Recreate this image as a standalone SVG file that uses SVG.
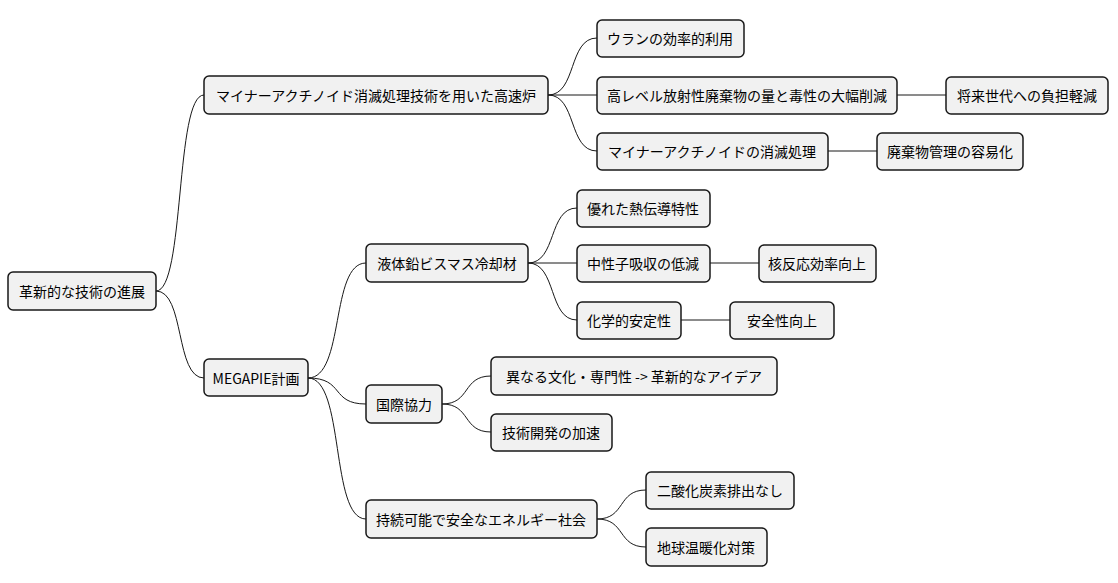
<svg xmlns="http://www.w3.org/2000/svg" width="1118" height="583" viewBox="0 0 1118 583">
<style>
rect{fill:#f1f1f1;stroke:#181818;stroke-width:1.5}
text{font-family:"Noto Sans CJK JP","DejaVu Sans",sans-serif;font-size:14px;fill:#000;dominant-baseline:central}
path{fill:none;stroke:#181818;stroke-width:1}
</style>
<rect width="1118" height="583" style="fill:#fff;stroke:none"/>
<g id="connectors">
<path d="M156,291 C185,291 175,95 204,95"/>
<path d="M156,291 C185,291 175,378 204,378"/>
<path d="M548,95 C577,95 568,38 597,38"/>
<path d="M548,95 L597,95"/>
<path d="M548,95 C577,95 568,151 597,151"/>
<path d="M897,95 L946,95"/>
<path d="M828,151 L877,151"/>
<path d="M308,378 C345,378 330,263 366,263"/>
<path d="M308,378 C345,378 330,404 366,404"/>
<path d="M308,378 C345,378 330,519 366,519"/>
<path d="M528,263 C557,263 548,208 577,208"/>
<path d="M528,263 L577,263"/>
<path d="M528,263 C557,263 548,320 577,320"/>
<path d="M710,263 L759,263"/>
<path d="M681,320 L730,320"/>
<path d="M442,404 C471,404 462,376 491,376"/>
<path d="M442,404 C471,404 462,432 491,432"/>
<path d="M597,519 C626,519 617,490 646,490"/>
<path d="M597,519 C626,519 617,547 646,547"/>
</g>
<g id="n1"><rect x="8" y="272" width="148" height="38" rx="5"/><text x="82" y="291" text-anchor="middle">革新的な技術の進展</text></g>
<g id="n2"><rect x="204" y="76" width="344" height="38" rx="5"/><text x="376" y="95" text-anchor="middle">マイナーアクチノイド消滅処理技術を用いた高速炉</text></g>
<g id="n3"><rect x="597" y="20" width="147" height="37" rx="5"/><text x="670" y="38" text-anchor="middle">ウランの効率的利用</text></g>
<g id="n4"><rect x="597" y="77" width="300" height="37" rx="5"/><text x="747" y="95" text-anchor="middle">高レベル放射性廃棄物の量と毒性の大幅削減</text></g>
<g id="n5"><rect x="946" y="77" width="162" height="37" rx="5"/><text x="1027" y="95" text-anchor="middle">将来世代への負担軽減</text></g>
<g id="n6"><rect x="597" y="133" width="231" height="37" rx="5"/><text x="712" y="151" text-anchor="middle">マイナーアクチノイドの消滅処理</text></g>
<g id="n7"><rect x="877" y="133" width="146" height="37" rx="5"/><text x="950" y="151" text-anchor="middle">廃棄物管理の容易化</text></g>
<g id="n8"><rect x="204" y="359" width="104" height="37" rx="5"/><text x="256" y="378" text-anchor="middle">MEGAPIE計画</text></g>
<g id="n9"><rect x="366" y="244" width="162" height="38" rx="5"/><text x="447" y="263" text-anchor="middle">液体鉛ビスマス冷却材</text></g>
<g id="n10"><rect x="577" y="190" width="133" height="37" rx="5"/><text x="643" y="208" text-anchor="middle">優れた熱伝導特性</text></g>
<g id="n11"><rect x="577" y="245" width="133" height="37" rx="5"/><text x="643" y="263" text-anchor="middle">中性子吸収の低減</text></g>
<g id="n12"><rect x="759" y="245" width="117" height="37" rx="5"/><text x="817" y="263" text-anchor="middle">核反応効率向上</text></g>
<g id="n13"><rect x="577" y="302" width="104" height="37" rx="5"/><text x="629" y="320" text-anchor="middle">化学的安定性</text></g>
<g id="n14"><rect x="730" y="302" width="104" height="37" rx="5"/><text x="782" y="320" text-anchor="middle">安全性向上</text></g>
<g id="n15"><rect x="366" y="385" width="76" height="38" rx="5"/><text x="404" y="404" text-anchor="middle">国際協力</text></g>
<g id="n16"><rect x="491" y="357" width="286" height="38" rx="5"/><text x="634" y="376" text-anchor="middle">異なる文化・専門性 -&gt; 革新的なアイデア</text></g>
<g id="n17"><rect x="491" y="414" width="121" height="37" rx="5"/><text x="551" y="432" text-anchor="middle">技術開発の加速</text></g>
<g id="n18"><rect x="366" y="500" width="231" height="38" rx="5"/><text x="481" y="519" text-anchor="middle">持続可能で安全なエネルギー社会</text></g>
<g id="n19"><rect x="646" y="472" width="148" height="37" rx="5"/><text x="720" y="490" text-anchor="middle">二酸化炭素排出なし</text></g>
<g id="n20"><rect x="646" y="528" width="121" height="38" rx="5"/><text x="706" y="547" text-anchor="middle">地球温暖化対策</text></g>
</svg>
